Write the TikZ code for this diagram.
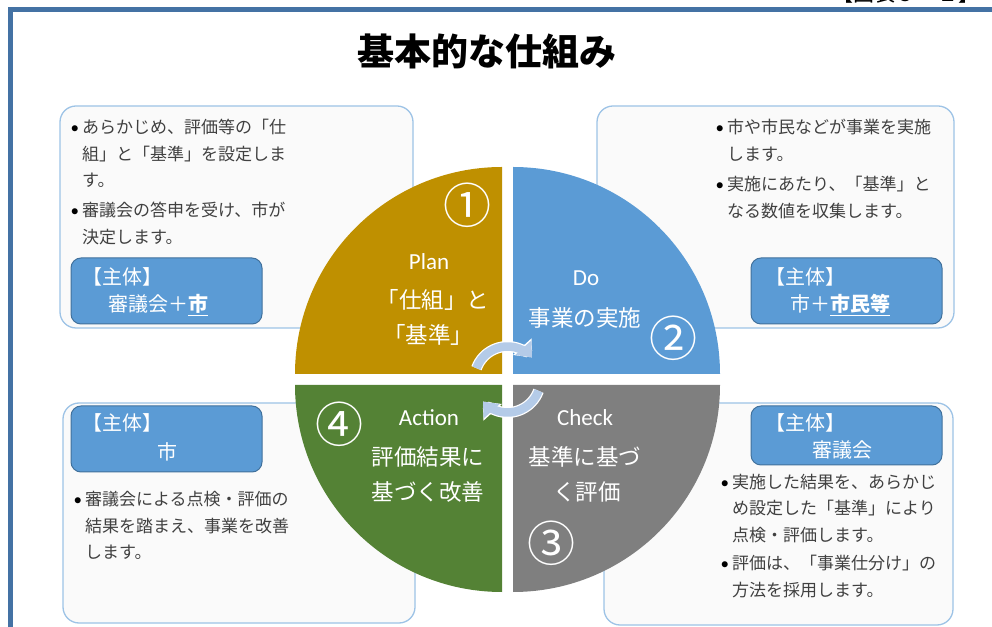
\documentclass[tikz,border=0pt]{standalone}
\usepackage{fontspec}
\setmainfont{Noto Sans CJK JP}
\newfontfamily\latfont{Carlito}
\usetikzlibrary{arrows.meta}

\definecolor{planGold}{HTML}{BF9000}
\definecolor{doBlue}{HTML}{5B9BD5}
\definecolor{checkGray}{HTML}{7F7F7F}
\definecolor{actGreen}{HTML}{548235}
\definecolor{boxLine}{HTML}{9DC3E6}
\definecolor{boxFill}{HTML}{FAFAFA}
\definecolor{tagBlue}{HTML}{5B9BD5}
\definecolor{tagLine}{HTML}{41719C}
\definecolor{frameBlue}{HTML}{4472A4}
\definecolor{arrowBlue}{HTML}{B4CBE8}
\definecolor{textGray}{HTML}{404040}

\newcommand{\bul}{\llap{\textcolor{black}{\latfont\textbullet}\hspace{3pt}}}

\tikzset{
  infobox/.style={draw=boxLine, fill=boxFill, line width=1.3pt, rounded corners=16pt},
  tagbox/.style={draw=tagLine, fill=tagBlue, line width=1pt, rounded corners=10pt},
  tagtext/.style={text=white, font=\fontsize{20}{24}\selectfont, inner sep=0pt, anchor=west},
  bultext/.style={text=textGray, font=\fontsize{17}{26.5}\selectfont, align=left, inner sep=0pt, anchor=north west},
  phase/.style={text=white, font=\latfont\fontsize{23}{26}\selectfont, inner sep=0pt},
  phasejp/.style={text=white, font=\fontsize{22.5}{26}\selectfont, inner sep=0pt},
  stepnum/.style={text=white, font=\fontsize{48}{48}\selectfont, inner sep=0pt},
  cyclearrow/.style={draw=arrowBlue, line width=8.5pt, -{Triangle[width=21pt,length=13pt]},
    preaction={draw=white, line width=11pt, -{Triangle[width=24pt,length=14.5pt]}}}
}

\begin{document}
\begin{tikzpicture}[x=1pt,y=1pt]
  \useasboundingbox (0,0) rectangle (992,626);

  \draw[frameBlue, line width=5pt] (10,-20) -- (10,616.5) -- (1010,616.5); % outer frame
  \node[anchor=base west, inner sep=0pt, font=\fontsize{21}{21}\selectfont] (figno) at (832,624) {【図表５－１】}; % cut off at top

  \node[font=\bfseries\fontsize{37}{40}\selectfont] (title) at (487,575) {基本的な仕組み}; % Title

  % info boxes
  \draw[infobox] (60,520) rectangle (413,298); % top left
  \draw[infobox] (597,520) rectangle (954,298); % top right
  \draw[infobox] (63,223) rectangle (415,3); % bottom left
  \draw[infobox] (604,223) rectangle (953,1); % bottom right

  \draw[tagbox] (71,368) rectangle (262,302);
  \draw[tagbox] (751,368) rectangle (942,302);
  \draw[tagbox] (71,220) rectangle (262,154);
  \draw[tagbox] (751,220) rectangle (942,161);

  \node[tagtext] (tagTLa) at (82,349) {【主体】};
  \node[tagtext] (tagTLb) at (108,321) {審議会＋\underline{\bfseries 市}};
  \node[tagtext] (tagTRa) at (765,349) {【主体】};
  \node[tagtext] (tagTRb) at (790,321) {市＋\underline{\bfseries 市民等}};
  \node[tagtext] (tagBLa) at (82,203) {【主体】};
  \node[tagtext] (tagBLb) at (157,174) {市};
  \node[tagtext] (tagBRa) at (765,203) {【主体】};
  \node[tagtext] (tagBRb) at (812,176) {審議会};

  \node[bultext] (tlA) at (82,507) {\bul あらかじめ、評価等の「仕\\組」と「基準」を設定しま\\す。};
  \node[bultext] (tlB) at (82,424) {\bul 審議会の答申を受け、市が\\決定します。};
  \node[bultext] (trA) at (727,507) {\bul 市や市民などが事業を実施\\します。};
  \node[bultext] (trB) at (727,450) {\bul 実施にあたり、「基準」と\\なる数値を収集します。};
  \node[bultext] (blA) at (85,135) {\bul 審議会による点検・評価の\\結果を踏まえ、事業を改善\\します。};
  \node[bultext] (brA) at (732,152) {\bul 実施した結果を、あらかじ\\め設定した「基準」により\\点検・評価します。};
  \node[bultext] (brB) at (732,71) {\bul 評価は、「事業仕分け」の\\方法を採用します。};

  % PDCA circle
  \fill[planGold] (502,252) -- ++(-207,0) arc[start angle=180, end angle=90, radius=207] -- cycle; % Plan
  \fill[doBlue] (513,252) -- ++(0,207) arc[start angle=90, end angle=0, radius=207] -- cycle; % Do
  \fill[checkGray] (513,241) -- ++(207,0) arc[start angle=0, end angle=-90, radius=207] -- cycle; % Check
  \fill[actGreen] (502,241) -- ++(0,-207) arc[start angle=270, end angle=180, radius=207] -- cycle; % Action

  \node[stepnum] (n1) at (467,421) {①};
  \node[stepnum] (n2) at (673,288) {②};
  \node[stepnum] (n3) at (551,83) {③};
  \node[stepnum] (n4) at (339,202) {④};

  \node[phase] (plan) at (429,364) {Plan};
  \node[phasejp] (planA) at (433,326) {「仕組」と};
  \node[phasejp] (planB) at (428,291) {「基準」};
  \node[phase] (do) at (586,348) {Do};
  \node[phasejp] (doA) at (585,308) {事業の実施};
  \node[phase] (check) at (585,208) {Check};
  \node[phasejp] (checkA) at (585,169) {基準に基づ};
  \node[phasejp] (checkB) at (587,134) {く評価};
  \node[phase] (act) at (429,208) {Action};
  \node[phasejp] (actA) at (428,169) {評価結果に};
  \node[phasejp] (actB) at (428,134) {基づく改善};

  % cycle arrows
  \coordinate (mid) at (507.5,246.5);
  \draw[cyclearrow] (mid) ++(160:33) arc[start angle=160, end angle=42, radius=33];
  \draw[cyclearrow] (mid) ++(-20:33) arc[start angle=-20, end angle=-138, radius=33];
\end{tikzpicture}
\end{document}
